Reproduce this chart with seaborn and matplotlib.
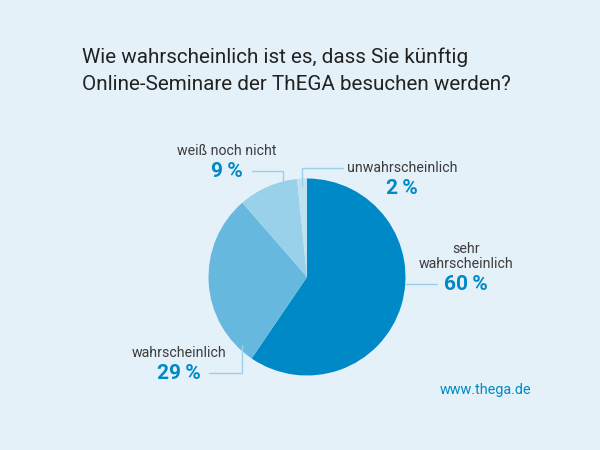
import matplotlib
matplotlib.use("Agg")
import matplotlib.pyplot as plt
import seaborn as sns

# Data
categories = ["sehr wahrscheinlich", "wahrscheinlich", "weiß noch nicht", "unwahrscheinlich"]
percent_labels = [60, 29, 9, 2]
# Slice sizes as drawn in the picture, they differ a little from the printed labels
slice_shares = [59.5, 29.1, 9.8, 1.6]
slice_colors = ["#0089C7", "#66B8DF", "#99D0EA", "#BFE2F2"]

title_lines = ["Wie wahrscheinlich ist es, dass Sie künftig",
               "Online-Seminare der ThEGA besuchen werden?"]

background = "#E4F1F8"
text_dark = "#3C3C3C"
blue = "#0089C7"
line_color = "#9BD0EA"

sns.set_style("white")
plt.rcParams["font.family"] = ["Roboto", "DejaVu Sans"]

fig = plt.figure(figsize=(6, 4.5), dpi=100, facecolor=background)
ax = fig.add_axes([0, 0, 1, 1])
ax.set_facecolor(background)

# Pixel coordinates, y counted from the top
def py(y):
    return 450 - y

# Pie
ax.pie(
    slice_shares,
    colors=sns.color_palette(slice_colors),
    startangle=90,
    counterclock=False,
    center=(307, py(277)),
    radius=98.5,
    frame=True,
    wedgeprops=dict(linewidth=0),
)
ax.set_aspect("equal")
ax.set_xlim(0, 600)
ax.set_ylim(0, 450)
ax.axis("off")

# Title
ax.text(82, py(57), title_lines[0], fontsize=14.9, color="#222222", va="center")
ax.text(82, py(84), title_lines[1], fontsize=14.9, color="#222222", va="center")

# Labels
label_style = dict(fontsize=10.2, color=text_dark, ha="center", va="center")
pct_style = dict(fontsize=15, color=blue, fontweight="bold", ha="center", va="center")

ax.text(466, py(249), "sehr", **label_style)
ax.text(466, py(264), "wahrscheinlich", **label_style)
ax.text(466, py(284.5), f"{percent_labels[0]}\u2009%", **pct_style)

ax.text(179, py(353), categories[1], **label_style)
ax.text(179, py(373.5), f"{percent_labels[1]}\u2009%", **pct_style)

ax.text(227, py(151), categories[2], **label_style)
ax.text(227, py(171.5), f"{percent_labels[2]}\u2009%", **pct_style)

ax.text(402, py(168), categories[3], **label_style)
ax.text(402, py(188.5), f"{percent_labels[3]}\u2009%", **pct_style)

# Leader lines
leaders = [
    ([405, 437], [284, 284]),
    ([209, 242, 242], [373, 373, 345]),
    ([252, 283, 283], [171, 171, 190]),
    ([343, 302, 302], [168, 168, 186]),
]
for xs, ys in leaders:
    ax.plot(xs, [py(y) for y in ys], color=line_color, lw=1, solid_joinstyle="miter")

# Footer
ax.text(486, py(390), "www.thega.de", fontsize=10.4, color=blue, ha="center", va="center")

fig.savefig("out.png", dpi=100, facecolor=background)
plt.close(fig)
